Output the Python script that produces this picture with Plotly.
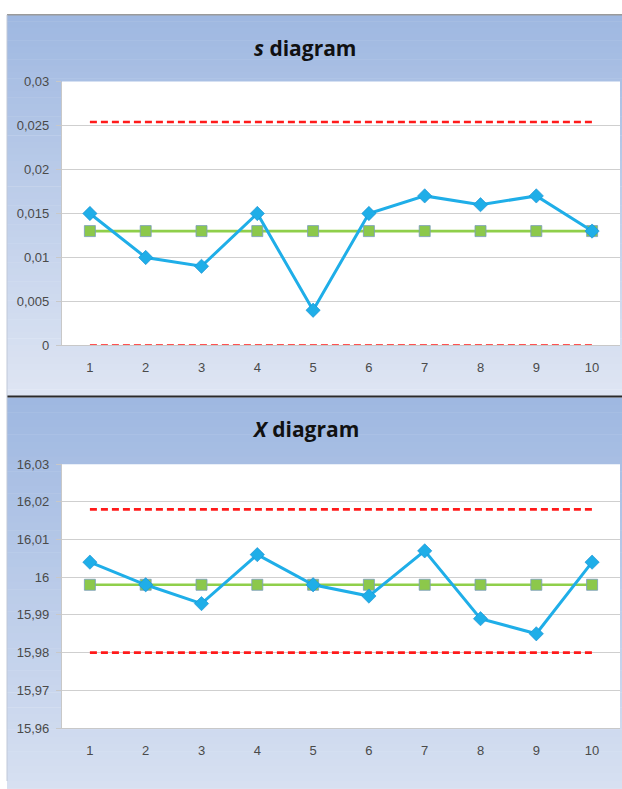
import plotly.graph_objects as go
from plotly.subplots import make_subplots

samples = [1, 2, 3, 4, 5, 6, 7, 8, 9, 10]

s_values = [0.015, 0.010, 0.009, 0.015, 0.004, 0.015, 0.017, 0.016, 0.017, 0.013]
s_cl = [0.013] * 10
s_ucl = [0.0254] * 10
s_lcl = [0.0] * 10

x_values = [16.004, 15.998, 15.993, 16.006, 15.998, 15.995, 16.007, 15.989, 15.985, 16.004]
x_cl = [15.998] * 10
x_ucl = [16.018] * 10
x_lcl = [15.980] * 10

s_tickvals = [0, 0.005, 0.01, 0.015, 0.02, 0.025, 0.03]
s_ticktext = ["0", "0,005", "0,01", "0,015", "0,02", "0,025", "0,03"]
x_tickvals = [15.96, 15.97, 15.98, 15.99, 16.0, 16.01, 16.02, 16.03]
x_ticktext = ["15,96", "15,97", "15,98", "15,99", "16", "16,01", "16,02", "16,03"]
cat_labels = [str(v) for v in samples]

W, H = 622, 789

def py(p):
    return 1 - p / H

def px(p):
    return p / W

fig = make_subplots(rows=2, cols=1)

BLUE = "#1faee8"
GREEN = "#8fcf4a"
RED = "#ff1a1a"

def add_chart(row, values, cl, ucl, lcl):
    for lim in (ucl, lcl):
        fig.add_trace(go.Scatter(x=samples, y=lim, mode="lines",
                                 line=dict(color=RED, width=2.6, dash="7px,4px"),
                                 showlegend=False, hoverinfo="skip", cliponaxis=False),
                      row=row, col=1)
    fig.add_trace(go.Scatter(x=samples, y=cl, mode="lines+markers",
                             line=dict(color=GREEN, width=2.6),
                             marker=dict(symbol="square", size=11, color="#8cc84b",
                                         line=dict(color="#7a9cc0", width=0.8)),
                             showlegend=False), row=row, col=1)
    fig.add_trace(go.Scatter(x=samples, y=values, mode="lines+markers",
                             line=dict(color=BLUE, width=3),
                             marker=dict(symbol="diamond", size=11, color=BLUE,
                                         line=dict(color="#1a8fd0", width=0.6)),
                             showlegend=False), row=row, col=1)

add_chart(1, s_values, s_cl, s_ucl, s_lcl)
add_chart(2, x_values, x_cl, x_ucl, x_lcl)

shapes = []

def gradient(top, bottom, n=60):
    c0 = (159, 184, 225)
    c1 = (222, 229, 243)
    step = (bottom - top) / n
    for i in range(n):
        t = i / (n - 1)
        c = tuple(int(round(c0[k] + (c1[k] - c0[k]) * t)) for k in range(3))
        shapes.append(dict(type="rect", xref="paper", yref="paper", layer="below",
                           x0=px(7), x1=1, y0=py(top + step * (i + 1) + 0.5), y1=py(top + step * i),
                           fillcolor="rgb(%d,%d,%d)" % c, line=dict(width=0)))

gradient(8, 396)
gradient(398, 789 + 60)

for (t, b) in ((76, 345), (466, 735)):
    shapes.append(dict(type="rect", xref="paper", yref="paper", layer="below",
                       x0=px(62), x1=px(620), y0=py(b), y1=py(t),
                       fillcolor="white", line=dict(width=0)))

shapes.append(dict(type="line", xref="paper", yref="paper", x0=px(7), x1=1,
                   y0=py(8), y1=py(8), line=dict(color="#9a9a9a", width=1.5)))
shapes.append(dict(type="line", xref="paper", yref="paper", x0=px(7), x1=1,
                   y0=py(397), y1=py(397), line=dict(color="#2a2a2a", width=2)))
shapes.append(dict(type="line", xref="paper", yref="paper", x0=px(7), x1=px(7),
                   y0=py(8), y1=0, line=dict(color="#c0c8d8", width=1)))

fig.update_layout(
    width=W, height=H,
    margin=dict(l=0, r=0, t=0, b=0),
    paper_bgcolor="white",
    plot_bgcolor="white",
    shapes=shapes,
    font=dict(family="Liberation Sans, Arial, sans-serif", color="#4a4a4a", size=13),
    annotations=[
        dict(text="<b><i>s</i> diagram</b>", xref="paper", yref="paper",
             x=px(305), y=py(42), xanchor="center", yanchor="middle", showarrow=False,
             font=dict(size=21, color="#111111", family="Open Sans, sans-serif")),
        dict(text="<b><i>X</i> diagram</b>", xref="paper", yref="paper",
             x=px(305), y=py(430), xanchor="center", yanchor="middle", showarrow=False,
             font=dict(size=21, color="#111111", family="Open Sans, sans-serif")),
    ],
)

fig.update_xaxes(domain=[px(62), px(620)], range=[0.5, 10.5], tickmode="array",
                 tickvals=samples, ticktext=cat_labels, showline=True,
                 linecolor="#c8c8c8", linewidth=1.2, ticks="", ticklabelstandoff=10,
                 showgrid=False, zeroline=False,
                 tickfont=dict(size=13, color="#4a4a4a"))
fig.update_yaxes(showgrid=True, gridcolor="#cfcfcf", gridwidth=1.2, zeroline=False,
                 showline=True, linecolor="#c8c8c8", linewidth=1.2,
                 ticks="outside", ticklen=5, tickcolor="#c8c8c8", ticklabelstandoff=4,
                 tickfont=dict(size=13, color="#4a4a4a"))
fig.update_yaxes(row=1, col=1, domain=[py(345), py(76)], range=[0, 0.03],
                 tickmode="array", tickvals=s_tickvals, ticktext=s_ticktext)
fig.update_yaxes(row=2, col=1, domain=[py(735), py(466)], range=[15.96, 16.03],
                 tickmode="array", tickvals=x_tickvals, ticktext=x_ticktext)

fig.write_html("out.html", config={"displayModeBar": False},
               post_script=("document.documentElement.style.margin='0';"
                            "document.documentElement.style.overflow='hidden';"
                            "document.body.style.margin='0';"
                            "document.body.style.overflow='hidden';"))
